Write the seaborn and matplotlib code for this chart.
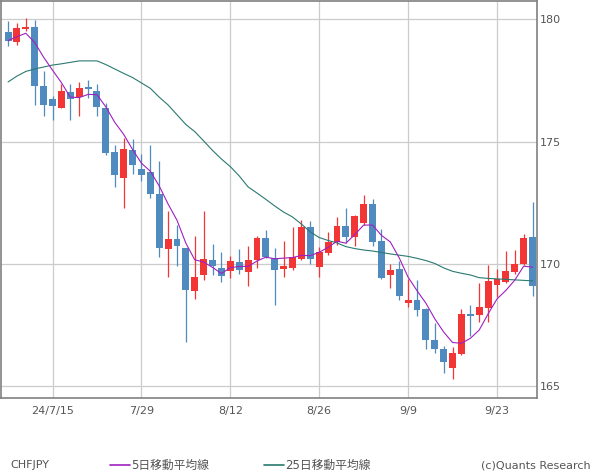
import numpy as np
import pandas as pd
import matplotlib
matplotlib.use('Agg')
import matplotlib.pyplot as plt
import seaborn as sns
from matplotlib.lines import Line2D

# ---- data ----
dates = pd.bdate_range('2024-07-08', periods=60)
tick_idx = [5, 15, 25, 35, 45, 55]
tick_labels = ["24/7/15", "7/29", "8/12", "8/26", "9/9", "9/23"]

opens = [179.48, 179.07, 179.60, 179.69, 177.27, 176.76, 176.39, 177.03, 176.82, 177.23,
         177.07, 176.39, 174.58, 173.53, 174.66, 173.88, 173.76, 172.86, 170.63, 171.02,
         170.67, 168.91, 169.56, 170.16, 169.84, 169.73, 170.08, 169.69, 170.16, 171.06,
         170.25, 169.80, 169.84, 170.20, 171.51, 169.88, 170.45, 170.90, 171.55, 171.10,
         171.68, 172.45, 170.95, 169.55, 169.80, 168.42, 168.53, 168.17, 166.91, 166.54,
         165.76, 166.33, 167.97, 167.93, 168.21, 169.15, 169.28, 169.69, 170.01, 171.12]
highs = [179.93, 179.85, 180.05, 179.97, 177.89, 176.88, 177.36, 177.36, 177.44, 177.52,
         177.36, 176.59, 174.86, 175.15, 175.11, 174.50, 174.86, 174.21, 172.17, 171.59,
         170.67, 171.14, 172.17, 170.82, 170.49, 170.33, 170.61, 170.74, 171.14, 171.39,
         170.65, 170.94, 171.51, 171.80, 171.76, 170.70, 171.31, 171.92, 172.29, 172.00,
         172.82, 172.66, 171.43, 170.00, 170.12, 169.39, 169.35, 168.20, 167.60, 166.66,
         166.62, 168.17, 168.34, 169.24, 169.97, 169.81, 170.54, 170.58, 171.24, 172.55]
lows = [178.92, 178.96, 179.52, 176.51, 176.06, 175.90, 176.39, 175.90, 176.06, 176.80,
        176.06, 174.47, 173.16, 172.30, 173.69, 173.40, 172.71, 170.30, 169.48, 169.93,
        166.82, 168.57, 169.36, 169.56, 169.28, 169.44, 169.60, 169.11, 169.84, 170.25,
        168.33, 169.47, 169.76, 170.16, 170.00, 169.47, 170.37, 170.78, 170.86, 170.74,
        171.59, 170.75, 169.40, 169.02, 168.53, 168.26, 167.89, 166.54, 166.37, 165.56,
        165.31, 166.29, 167.07, 167.64, 167.64, 168.66, 169.24, 169.60, 169.97, 168.70]
closes = [179.13, 179.64, 179.69, 177.29, 176.51, 176.47, 177.08, 176.76, 177.19, 177.15,
          176.43, 174.55, 173.65, 174.70, 174.06, 173.65, 172.87, 170.67, 171.02, 170.75,
          168.95, 169.47, 170.20, 169.92, 169.52, 170.12, 169.76, 170.16, 171.06, 170.29,
          169.76, 169.92, 170.29, 171.51, 170.20, 170.49, 170.90, 171.55, 171.10, 171.96,
          172.45, 170.91, 169.44, 169.75, 168.69, 168.53, 168.13, 166.91, 166.54, 166.01,
          166.38, 167.97, 167.89, 168.26, 169.32, 169.40, 169.73, 170.01, 171.08, 169.11]
ma5 = [179.13, 179.29, 179.43, 179.05, 178.45, 177.92, 177.41, 176.82, 176.80, 176.93,
       176.92, 176.42, 175.79, 175.30, 174.68, 174.12, 173.79, 173.19, 172.45, 171.79,
       170.85, 170.17, 170.08, 169.86, 169.61, 169.85, 169.90, 169.90, 170.12, 170.28,
       170.21, 170.24, 170.26, 170.35, 170.34, 170.48, 170.68, 170.93, 170.85, 171.20,
       171.59, 171.59, 171.17, 170.90, 170.25, 169.46, 168.91, 168.40, 167.76, 167.22,
       166.79, 166.76, 166.96, 167.30, 167.96, 168.57, 168.92, 169.34, 169.91, 169.87]
ma25 = [177.44, 177.68, 177.87, 177.97, 178.05, 178.13, 178.18, 178.24, 178.30, 178.30,
        178.30, 178.15, 177.97, 177.79, 177.62, 177.40, 177.18, 176.82, 176.50, 176.10,
        175.70, 175.41, 175.03, 174.64, 174.29, 173.98, 173.60, 173.15, 172.90, 172.64,
        172.37, 172.12, 171.92, 171.63, 171.31, 171.08, 170.96, 170.86, 170.71, 170.63,
        170.57, 170.53, 170.47, 170.41, 170.36, 170.31, 170.23, 170.14, 170.02, 169.84,
        169.70, 169.62, 169.55, 169.44, 169.41, 169.39, 169.37, 169.35, 169.33, 169.31]

df = pd.DataFrame({"date": dates, "open": opens, "high": highs, "low": lows,
                   "close": closes, "ma5": ma5, "ma25": ma25})
df["idx"] = np.arange(len(df))

UP = "#f23535"
DOWN = "#4f8bbf"
C5 = "#a020c0"
C25 = "#2a7a70"
TXT = "#555555"

sns.set_style("white")
plt.rcParams['font.family'] = ['DejaVu Sans', 'Noto Sans CJK JP']

fig = plt.figure(figsize=(6, 4.75), dpi=100)
ax = fig.add_axes([0.001, 0.162, 0.894, 0.836])

colors = [UP if c >= o else DOWN for o, c in zip(df["open"], df["close"])]

# wicks
ax.vlines(df["idx"], df["low"], df["high"], colors=colors, linewidth=0.9, zorder=2)
# bodies
body = (df["close"] - df["open"]).abs()
body = body.where(body > 0.06, 0.06)
bottom = df[["open", "close"]].min(axis=1)
ax.bar(df["idx"], body, bottom=bottom, width=0.78, color=colors,
       linewidth=0, zorder=3)

sns.lineplot(data=df, x="idx", y="ma25", ax=ax, color=C25, linewidth=0.8, zorder=4)
sns.lineplot(data=df, x="idx", y="ma5", ax=ax, color=C5, linewidth=0.8, zorder=5)

ax.set_xlim(-0.84, 59.5)
ax.set_ylim(164.52, 180.75)
ax.set_xticks(tick_idx)
ax.set_xticklabels(tick_labels)
ax.set_yticks([165, 170, 175, 180])
ax.yaxis.tick_right()
ax.tick_params(axis='both', length=0, colors=TXT, labelsize=8)
ax.tick_params(axis='y', pad=2)
ax.tick_params(axis='x', pad=6)
ax.set_xlabel("")
ax.set_ylabel("")
ax.grid(True, color="#cccccc", linewidth=0.9)
ax.set_axisbelow(True)
for s in ax.spines.values():
    s.set_color("#808080")
    s.set_linewidth(1.2)

# bottom legend
ly = 1 - 465 / 475
fig.text(10 / 600, ly, "CHFJPY", color=TXT, fontsize=8, va='center', ha='left')
fig.add_artist(Line2D([110 / 600, 130 / 600], [ly, ly], color=C5, linewidth=1.2))
fig.text(131 / 600, ly, "5日移動平均線", color=TXT, fontsize=8.5, va='center', ha='left')
fig.add_artist(Line2D([264 / 600, 284 / 600], [ly, ly], color=C25, linewidth=1.2))
fig.text(285 / 600, ly, "25日移動平均線", color=TXT, fontsize=8.5, va='center', ha='left')
fig.text(591 / 600, ly, "(c)Quants Research", color=TXT, fontsize=8, va='center', ha='right')

fig.savefig("out.png", dpi=100)
